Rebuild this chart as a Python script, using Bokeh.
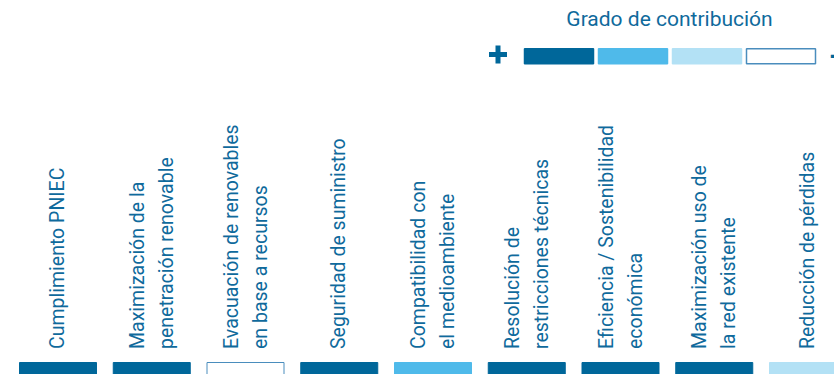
import math
from bokeh.plotting import figure
from bokeh.models import Range1d, ColumnDataSource
from bokeh.core.properties import value
from bokeh.embed import file_html
from bokeh.resources import INLINE

# ---------------- data ----------------
categories = [
    ["Cumplimiento PNIEC"],
    ["Maximización de la", "penetración renovable"],
    ["Evacuación de renovables", "en base a recursos"],
    ["Seguridad de suministro"],
    ["Compatibilidad con", "el medioambiente"],
    ["Resolución de", "restricciones técnicas"],
    ["Eficiencia / Sostenibilidad", "económica"],
    ["Maximización uso de", "la red  existente"],
    ["Reducción de pérdidas"],
]
# contribution level: 3 = highest (+) ... 0 = lowest (-)
contribution = [3, 3, 0, 3, 2, 3, 3, 3, 1]
legend_levels = [3, 2, 1, 0]
legend_title = "Grado de contribución"
legend_plus = "+"
legend_minus = "−"

# ---------------- style ----------------
DARK = "#00679a"
TEXT = "#0f6a9c"
level_fill = {3: "#00679a", 2: "#4fbaea", 1: "#b3e1f5", 0: "#ffffff"}
level_line = {3: "#00679a", 2: "#4fbaea", 1: "#b3e1f5", 0: "#4a8dbd"}

W, H = 834, 374
PX = 93.75            # pixels per category
X0 = -57.5 / PX       # data x at left edge


def px(xpix):
    return xpix / PX + X0


def py(ypix):  # pixel from top -> data y
    return H - ypix


p = figure(width=W, height=H, output_backend="svg", toolbar_location=None,
           x_range=Range1d(X0, X0 + W / PX), y_range=Range1d(0, H),
           min_border=0, min_border_left=0, min_border_right=0,
           min_border_top=0, min_border_bottom=0)
p.axis.visible = False
p.grid.visible = False
p.outline_line_color = None
p.background_fill_color = "white"
p.border_fill_color = "white"

# bars
idx = list(range(len(categories)))
bar_src = ColumnDataSource(dict(
    x=idx,
    fill=[level_fill[c] for c in contribution],
    line=[level_line[c] for c in contribution],
))
p.vbar(x="x", width=77 / PX, top=py(362), bottom=py(380), source=bar_src,
       fill_color="fill", line_color="line", line_width=1)

# rotated labels
lx, loff, ltxt = [], [], []
for i, lines in enumerate(categories):
    n = len(lines)
    offs = [-1.0] if n == 1 else [-14.5, 14.5]
    for j, t in enumerate(lines):
        lx.append(i)
        loff.append(offs[j])
        ltxt.append(t)
lab_src = ColumnDataSource(dict(x=lx, xo=loff, text=ltxt, y=[py(348.5)] * len(lx)))
p.text(x="x", y="y", text="text", x_offset="xo", source=lab_src,
       angle=math.pi / 2, text_align="left", text_baseline="middle",
       text_font=value("Roboto"), text_font_size="19.5px", text_color=TEXT)

# legend
p.text(x=[px(669)], y=[py(18.5)], text=[legend_title], text_align="center",
       text_baseline="middle", text_font=value("Roboto"),
       text_font_size="21px", text_color=TEXT)
p.scatter(x=[px(497.5)], y=[py(54)], marker="cross", size=18, line_width=5,
          line_color=DARK)
p.text(x=[px(836)], y=[py(55)], text=[legend_minus], text_align="center",
       text_baseline="middle", text_font=value("Roboto"),
       text_font_size="28px", text_font_style="bold", text_color=DARK)
leg_src = ColumnDataSource(dict(
    x=[px(558.5 + 74 * k) for k in range(len(legend_levels))],
    fill=[level_fill[c] for c in legend_levels],
    line=[level_line[c] for c in legend_levels],
))
p.rect(x="x", y=py(55.8), width=69 / PX, height=15, source=leg_src,
       fill_color="fill", line_color="line", line_width=1.5)

open("out.html", "w").write(file_html(p, INLINE))
